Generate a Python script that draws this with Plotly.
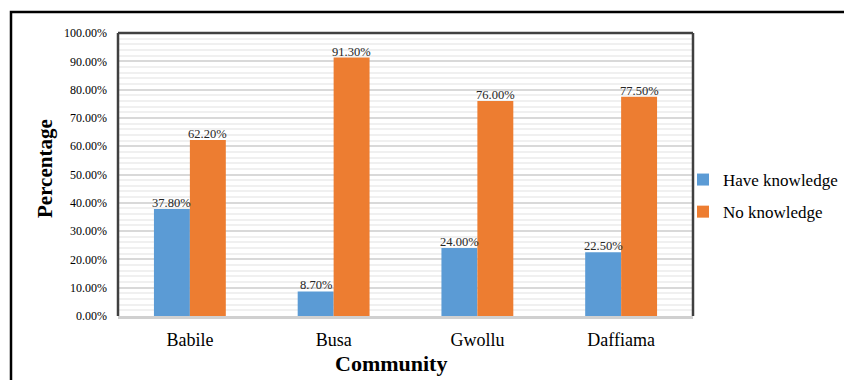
import plotly.graph_objects as go

categories = ["Babile", "Busa", "Gwollu", "Daffiama"]
have_knowledge = [37.8, 8.7, 24.0, 22.5]
no_knowledge = [62.2, 91.3, 76.0, 77.5]
series_names = ["Have knowledge", "No knowledge"]
y_ticks = [0, 10, 20, 30, 40, 50, 60, 70, 80, 90, 100]
y_tick_labels = [f"{v:.2f}%" for v in y_ticks]
x_title = "Community"
y_title = "Percentage"

FONT = "Liberation Serif, Times New Roman, serif"
colors = ["#5B9BD5", "#ED7D31"]

fig = go.Figure()
series = [have_knowledge, no_knowledge]
for name, vals, col in zip(series_names, series, colors):
    fig.add_trace(go.Bar(
        x=categories, y=vals, name=name, legendgroup=name,
        marker=dict(color=col, line=dict(width=0)),
    ))

W, H = 844, 380
L, R, T, B = 118, 151, 33, 64
pw, ph = W - L - R, H - T - B

def px(x):
    return (x - L) / pw

def py(y):
    return (H - B - y) / ph

# data labels sitting on bar tops
bar_w = pw / len(categories) * 0.5 / 2
for i, vals in enumerate(series):
    shift = (i - 0.5) * bar_w
    for c, v in zip(categories, vals):
        fig.add_annotation(x=c, y=v, text=f"{v:.2f}%", showarrow=False,
                           xshift=shift, yshift=-3, yanchor="bottom",
                           font=dict(family=FONT, size=12.5, color="#262626"))

# axis titles
fig.add_annotation(xref="paper", yref="paper", x=px(391), y=py(363),
                   text=f"<b>{x_title}</b>", showarrow=False,
                   xanchor="center", yanchor="middle",
                   font=dict(family=FONT, size=22, color="#000"))
fig.add_annotation(xref="paper", yref="paper", x=px(45), y=py(169),
                   text=f"<b>{y_title}</b>", showarrow=False, textangle=-90,
                   xanchor="center", yanchor="middle",
                   font=dict(family=FONT, size=21, color="#000"))

fig.update_layout(
    width=W, height=H,
    margin=dict(l=L, r=R, t=T, b=B, pad=0, autoexpand=False),
    paper_bgcolor="white", plot_bgcolor="white",
    barmode="group", bargap=0.5, bargroupgap=0,
    font=dict(family=FONT, color="#000000"),
    legend=dict(x=px(683), y=py(162), xanchor="left", yanchor="top",
                font=dict(family=FONT, size=17, color="#000"),
                itemwidth=30, tracegroupgap=7, traceorder="grouped",
                bgcolor="rgba(0,0,0,0)"),
    xaxis=dict(tickfont=dict(family=FONT, size=18, color="#000"),
               showline=True, linecolor="#d0d0d0", linewidth=3,
               ticks="", showgrid=False, ticklabelstandoff=5),
    yaxis=dict(range=[0, 100], tickvals=y_ticks, ticktext=y_tick_labels,
               tickfont=dict(family=FONT, size=12, color="#000"),
               showgrid=True, gridcolor="#d9d9d9", gridwidth=2,
               minor=dict(dtick=2, showgrid=True, gridcolor="#f0f0f0", gridwidth=2),
               zeroline=False, ticks="", ticklabelstandoff=10),
)

# plot-area frame (left, top, right)
frame_col = "#404040"
fig.add_shape(type="line", xref="paper", yref="paper", x0=0, x1=0, y0=0, y1=1,
              line=dict(color=frame_col, width=2.5))
fig.add_shape(type="line", xref="paper", yref="paper", x0=0, x1=1, y0=1, y1=1,
              line=dict(color=frame_col, width=2.5))
fig.add_shape(type="line", xref="paper", yref="paper", x0=1, x1=1, y0=0, y1=1,
              line=dict(color=frame_col, width=2.5))
# outer border
fig.add_shape(type="rect", xref="paper", yref="paper",
              x0=px(11), x1=px(860), y0=py(12), y1=py(400),
              line=dict(color="#000", width=2.5), fillcolor="rgba(0,0,0,0)")

fig.write_html("out.html")
